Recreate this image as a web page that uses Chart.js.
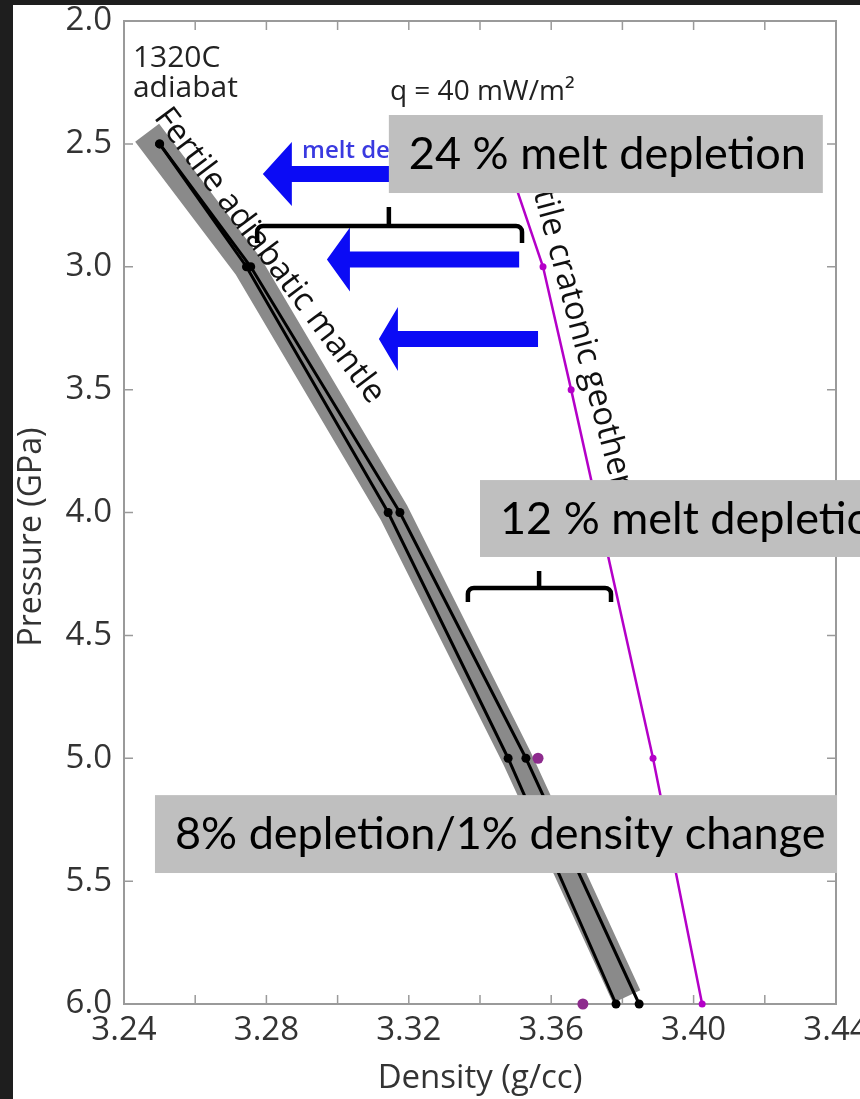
<!DOCTYPE html>
<html>
<head>
<meta charset="utf-8">
<script src="https://cdn.jsdelivr.net/npm/chart.js@4.4.1/dist/chart.umd.min.js"></script>
<style>
  html, body { margin: 0; padding: 0; background: #1e1e1e; }
  #wrap { width: 860px; height: 1099px; }
</style>
</head>
<body>
<div id="wrap"><canvas id="densityChart" width="860" height="1099"></canvas></div>
<script>
// Values: pressure in GPa, density in g/cc
const adiabatPressure = [2.5, 3.0, 4.0, 5.0, 6.0];
const adiabatDensityA = [3.250, 3.2744, 3.3142, 3.3479, 3.3782];
const adiabatDensityB = [3.250, 3.2756, 3.3175, 3.3529, 3.3847];

// grey envelope around the two adiabats
const bandPressure = [2.455, 3.0, 4.0, 5.0, 5.97];
const bandDensity = [3.2465, 3.275, 3.3158, 3.3504, 3.3812];

// fertile cratonic geotherm, q = 40 mW/m2
const geothermPressure = [2.5, 3.0, 3.5, 5.0, 6.0];
const geothermDensity = [3.346, 3.3577, 3.3656, 3.3886, 3.4024];

// the two loose purple points
const loosePressure = [5.0, 6.0];
const looseDensity = [3.3563, 3.3689];

const densityLabels = [3.24, 3.28, 3.32, 3.36, 3.40, 3.44];
const pressureLabels = [2.0, 2.5, 3.0, 3.5, 4.0, 4.5, 5.0, 5.5, 6.0];

// annotations, in data units
const arrows = [
    { tip: 3.279, tail: 3.325, p: 2.623, head: 29 },
    { tip: 3.297, tail: 3.351, p: 2.970, head: 23 },
    { tip: 3.3116, tail: 3.3563, p: 3.294, head: 19 }
];
const brackets = [
    { x1: 3.2774, x2: 3.3518, xm: 3.3144, bar: 2.834, top: 2.757, foot: 2.903 },
    { x1: 3.3366, x2: 3.3768, xm: 3.3566, bar: 4.307, top: 4.238, foot: 4.364 }
];
const boxes = [
    { x1: 3.3144, x2: 3.4363, p1: 2.3825, p2: 2.700, text: '24 % melt depletion' },
    { x1: 3.3400, x2: 3.4600, p1: 3.868, p2: 4.181, text: '12 % melt depletion' },
    { x1: 3.2487, x2: 3.4403, p1: 5.150, p2: 5.467, text: '8% depletion/1% density change' }
];

const pts = (xs, ys) => xs.map((x, i) => ({ x: x, y: ys[i] }));

const figurePlugin = {
    id: 'figure',
    beforeDraw(chart) {
        const ctx = chart.ctx;
        ctx.save();
        ctx.fillStyle = '#1e1e1e';
        ctx.fillRect(0, 0, chart.width, chart.height);
        ctx.fillStyle = '#ffffff';
        ctx.fillRect(13, 5, chart.width - 13, chart.height - 5);
        ctx.restore();
    },
    beforeDatasetsDraw(chart) {
        const { ctx, chartArea: a, scales: { x, y } } = chart;
        ctx.save();
        ctx.strokeStyle = '#9a9a9a';
        ctx.lineWidth = 2;
        ctx.strokeRect(a.left, a.top, a.right - a.left, a.bottom - a.top);
        ctx.lineWidth = 1.5;
        ctx.beginPath();
        x.ticks.forEach(t => {
            const px = x.getPixelForValue(t.value);
            ctx.moveTo(px, a.bottom); ctx.lineTo(px, a.bottom - 9);
            ctx.moveTo(px, a.top); ctx.lineTo(px, a.top + 9);
        });
        y.ticks.forEach(t => {
            const py = y.getPixelForValue(t.value);
            ctx.moveTo(a.left, py); ctx.lineTo(a.left + 9, py);
            ctx.moveTo(a.right, py); ctx.lineTo(a.right - 9, py);
        });
        ctx.stroke();

        // y axis title
        ctx.fillStyle = '#333';
        ctx.font = '32px "Open Sans"';
        ctx.textAlign = 'center';
        ctx.textBaseline = 'middle';
        ctx.translate(a.left - 92, y.getPixelForValue(4.1));
        ctx.rotate(-Math.PI / 2);
        ctx.fillText('Pressure (GPa)', 0, 0);
        ctx.restore();
    },
    afterDatasetsDraw(chart) {
        const { ctx, scales: { x, y } } = chart;
        ctx.save();

        // plain labels
        ctx.fillStyle = '#222';
        ctx.textAlign = 'left';
        ctx.textBaseline = 'alphabetic';
        ctx.font = '30px "Open Sans"';
        ctx.fillText('1320C', x.getPixelForValue(3.2425), y.getPixelForValue(2.187));
        ctx.fillText('adiabat', x.getPixelForValue(3.2425), y.getPixelForValue(2.309));
        ctx.font = '28px "Open Sans"';
        ctx.fillText('q = 40 mW/m\u00b2', x.getPixelForValue(3.3147), y.getPixelForValue(2.3215));

        // rotated labels along the curves
        ctx.fillStyle = '#111';
        ctx.font = '33px "Open Sans"';
        ctx.textAlign = 'center';
        ctx.textBaseline = 'middle';
        [
            { text: 'Fertile adiabatic mantle', d: 3.2808, p: 2.955, ang: 53 },
            { text: 'Fertile cratonic geotherm', d: 3.3681, p: 3.257, ang: 75 }
        ].forEach(l => {
            ctx.save();
            ctx.translate(x.getPixelForValue(l.d), y.getPixelForValue(l.p));
            ctx.rotate(l.ang * Math.PI / 180);
            ctx.fillText(l.text, 0, 0);
            ctx.restore();
        });

        // blue arrows
        ctx.fillStyle = '#3a3ae0';
        ctx.font = '600 24px "Open Sans"';
        ctx.textAlign = 'left';
        ctx.textBaseline = 'alphabetic';
        ctx.fillText('melt depletion', x.getPixelForValue(3.29), y.getPixelForValue(2.5575));
        ctx.fillStyle = '#0b0bf5';
        arrows.forEach(ar => {
            const tx = x.getPixelForValue(ar.tip);
            const ex = x.getPixelForValue(ar.tail);
            const cy = y.getPixelForValue(ar.p);
            ctx.beginPath();
            ctx.moveTo(tx, cy);
            ctx.lineTo(tx + ar.head, cy - 32);
            ctx.lineTo(tx + ar.head, cy - 8);
            ctx.lineTo(ex, cy - 8);
            ctx.lineTo(ex, cy + 8);
            ctx.lineTo(tx + ar.head, cy + 8);
            ctx.lineTo(tx + ar.head, cy + 32);
            ctx.closePath();
            ctx.fill();
        });

        // brackets
        ctx.strokeStyle = '#000';
        ctx.lineWidth = 4.5;
        ctx.lineJoin = 'round';
        ctx.lineCap = 'butt';
        brackets.forEach(b => {
            const x1 = x.getPixelForValue(b.x1), x2 = x.getPixelForValue(b.x2);
            const xm = x.getPixelForValue(b.xm);
            const yb = y.getPixelForValue(b.bar), yt = y.getPixelForValue(b.top);
            const yf = y.getPixelForValue(b.foot);
            ctx.beginPath();
            ctx.moveTo(x1, yf);
            ctx.arcTo(x1, yb, x1 + 8, yb, 6);
            ctx.arcTo(x2, yb, x2, yf, 6);
            ctx.lineTo(x2, yf);
            ctx.moveTo(xm, yb);
            ctx.lineTo(xm, yt);
            ctx.stroke();
        });

        // grey callout boxes
        boxes.forEach(bx => {
            const l = x.getPixelForValue(bx.x1), r = x.getPixelForValue(bx.x2);
            const t = y.getPixelForValue(bx.p1), b = y.getPixelForValue(bx.p2);
            ctx.fillStyle = '#bfbfbf';
            ctx.fillRect(l, t, r - l, b - t);
            ctx.fillStyle = '#000';
            ctx.font = '45px Lato';
            ctx.fillText(bx.text, l + 20, (t + b) / 2 + 15);
        });
        ctx.restore();
    }
};

const ctx = document.getElementById('densityChart').getContext('2d');
new Chart(ctx, {
    type: 'scatter',
    data: {
        datasets: [
            {
                label: 'Fertile adiabatic mantle envelope',
                data: pts(bandDensity, bandPressure),
                showLine: true,
                borderColor: '#8a8a8a',
                borderWidth: 30,
                borderCapStyle: 'butt',
                borderJoinStyle: 'miter',
                pointRadius: 0,
                clip: false,
                order: 5
            },
            {
                label: 'Adiabat A',
                data: pts(adiabatDensityA, adiabatPressure),
                showLine: true,
                borderColor: '#000',
                borderWidth: 3,
                pointRadius: 4.5,
                pointBackgroundColor: '#000',
                pointBorderWidth: 0,
                clip: false,
                order: 2
            },
            {
                label: 'Adiabat B',
                data: pts(adiabatDensityB, adiabatPressure),
                showLine: true,
                borderColor: '#000',
                borderWidth: 3,
                pointRadius: 4.5,
                pointBackgroundColor: '#000',
                pointBorderWidth: 0,
                clip: false,
                order: 2
            },
            {
                label: 'Fertile cratonic geotherm',
                data: pts(geothermDensity, geothermPressure),
                showLine: true,
                borderColor: '#b400c8',
                borderWidth: 2.5,
                pointRadius: 3.5,
                pointBackgroundColor: '#b400c8',
                pointBorderWidth: 0,
                clip: false,
                order: 3
            },
            {
                label: 'Depleted points',
                data: pts(looseDensity, loosePressure),
                showLine: false,
                pointRadius: 5.5,
                pointBackgroundColor: '#8d2b8d',
                pointBorderWidth: 0,
                clip: false,
                order: 1
            }
        ]
    },
    options: {
        responsive: false,
        devicePixelRatio: 1,
        animation: false,
        layout: { padding: { left: 0, top: 21, right: 24, bottom: 0 } },
        plugins: {
            legend: { display: false },
            tooltip: { enabled: false }
        },
        scales: {
            x: {
                type: 'linear',
                min: 3.24,
                max: 3.44,
                afterFit: s => {
                    s.height = 95;
                    s.paddingLeft = 0;
                    s.paddingRight = 0;
                },
                grid: { display: false, drawTicks: false },
                border: { display: false },
                ticks: {
                    stepSize: 0.02,
                    padding: 7,
                    color: '#333',
                    font: { family: 'Open Sans', size: 33 },
                    maxRotation: 0,
                    autoSkip: false,
                    callback: v => densityLabels.some(d => Math.abs(d - v) < 1e-6) ? v.toFixed(2) : ''
                },
                title: {
                    display: true,
                    text: 'Density (g/cc)',
                    color: '#333',
                    font: { family: 'Open Sans', size: 33 },
                    padding: { top: 0, bottom: 1 }
                }
            },
            y: {
                type: 'linear',
                reverse: true,
                min: 2.0,
                max: 6.0,
                afterFit: s => {
                    s.width = 124;
                    s.paddingTop = 0;
                    s.paddingBottom = 0;
                },
                grid: { display: false, drawTicks: false },
                border: { display: false },
                ticks: {
                    stepSize: 0.5,
                    padding: 12,
                    color: '#333',
                    font: { family: 'Open Sans', size: 33 },
                    autoSkip: false,
                    callback: v => pressureLabels.some(p => Math.abs(p - v) < 1e-6) ? v.toFixed(1) : ''
                }
            }
        }
    },
    plugins: [figurePlugin]
});
</script>
</body>
</html>
